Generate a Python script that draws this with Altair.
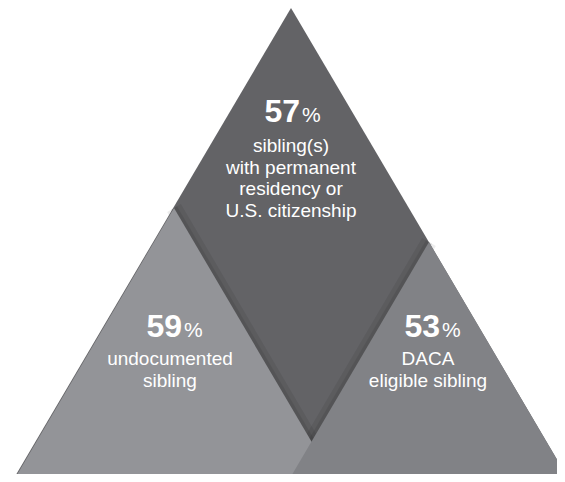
import altair as alt
import pandas as pd

# ---- shapes (image coordinates: x to the right, y downward) ----
shape_names = ["top", "left", "right"]
shape_colors = ["#636366", "#939498", "#818286"]
tri_x = {"top": [7, 291, 575], "left": [8, 174, 340], "right": [283, 429, 575]}
tri_y = {"top": [490, 8, 490], "left": [490, 208, 490], "right": [490, 242, 490]}
base_y = 490

# ---- labels ----
pct_values = ["57", "59", "53"]
pct_anchor_x = [300, 182, 440]
pct_anchor_y = [122, 337, 337]
desc_lines = [
    ["sibling(s)", "with permanent", "residency or", "U.S. citizenship"],
    ["undocumented", "sibling"],
    ["DACA", "eligible sibling"],
]
desc_center_x = [291, 170, 428]
desc_first_y = [152, 365, 365]
line_step = 21.5

rows = []
for s in shape_names:
    for xv, yv in zip(tri_x[s], tri_y[s]):
        rows.append({"shape": s, "x": xv, "y": yv, "base": base_y})
tri_df = pd.DataFrame(rows)

# shadow edges: inner edges of the two lower triangles
edge_rows = []
for xv, yv in zip(tri_x["left"][1:], tri_y["left"][1:]):
    edge_rows.append({"edge": "L", "x": xv, "y": yv})
for xv, yv in zip(tri_x["right"][:2], tri_y["right"][:2]):
    edge_rows.append({"edge": "R", "x": xv, "y": yv})
edge_df = pd.DataFrame(edge_rows)

num_df = pd.DataFrame({"x": pct_anchor_x, "y": pct_anchor_y, "t": pct_values})
pct_df = pd.DataFrame({"x": [v + 2 for v in pct_anchor_x], "y": pct_anchor_y, "t": ["%"] * 3})
line_rows = []
for lines, cx, fy in zip(desc_lines, desc_center_x, desc_first_y):
    for i, ln in enumerate(lines):
        line_rows.append({"x": cx, "y": fy + i * line_step, "t": ln})
line_df = pd.DataFrame(line_rows)

xs = alt.Scale(domain=[8, 557], nice=False, zero=False)
ys = alt.Scale(domain=[8, 474], nice=False, zero=False, reverse=True)
X = alt.X("x:Q", scale=xs, axis=None)
Y = alt.Y("y:Q", scale=ys, axis=None)

def tri(name, color):
    return (
        alt.Chart(tri_df)
        .transform_filter(alt.datum.shape == name)
        .mark_area(color=color, clip=True, interpolate="linear")
        .encode(x=X, y=Y, y2="base:Q")
    )

shadow_wide = (
    alt.Chart(edge_df)
    .mark_line(color="#000000", strokeWidth=16, opacity=0.07, clip=True)
    .encode(x=X, y=Y, detail="edge:N")
)
shadow_narrow = (
    alt.Chart(edge_df)
    .mark_line(color="#000000", strokeWidth=7, opacity=0.08, clip=True)
    .encode(x=X, y=Y, detail="edge:N")
)

font = "Liberation Sans"
num_text = alt.Chart(num_df).mark_text(
    font=font, fontSize=32, fontWeight="bold", color="white", align="right", baseline="alphabetic"
).encode(x=X, y=Y, text="t:N")
pct_text = alt.Chart(pct_df).mark_text(
    font=font, fontSize=21, color="white", align="left", baseline="alphabetic"
).encode(x=X, y=Y, text="t:N")
line_text = alt.Chart(line_df).mark_text(
    font=font, fontSize=19, color="white", align="center", baseline="alphabetic"
).encode(x=X, y=Y, text="t:N")

chart = alt.layer(
    tri("top", shape_colors[0]),
    shadow_wide,
    shadow_narrow,
    tri("left", shape_colors[1]),
    tri("right", shape_colors[2]),
    num_text,
    pct_text,
    line_text,
).properties(width=549, height=466, padding=0, background="white").configure_view(stroke=None)

chart.save("out.html", embed_options={"renderer": "svg", "actions": False})
